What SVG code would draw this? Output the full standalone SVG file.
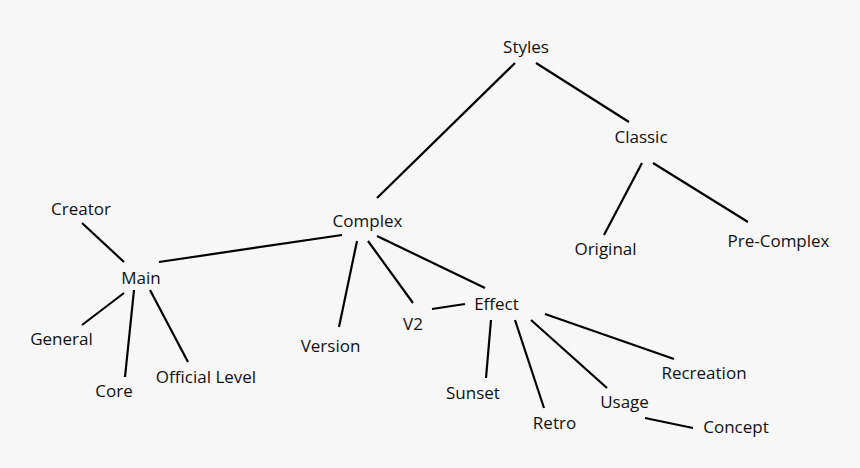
<svg xmlns="http://www.w3.org/2000/svg" width="860" height="468" viewBox="0 0 860 468">
<style>
.bg{fill:#f7f7f7}
text{font-family:"Open Sans","Noto Sans",sans-serif;font-size:17px;fill:#111;text-anchor:middle}
.edges line{stroke:#000;stroke-width:2.2;stroke-linecap:butt}
</style>
<rect class="bg" width="860" height="468"/>
<g class="edges" id="connectors">
<line x1="515" y1="63" x2="377" y2="198"/>
<line x1="536" y1="63" x2="629" y2="122"/>
<line x1="642" y1="163" x2="604" y2="235"/>
<line x1="653" y1="163" x2="748" y2="222"/>
<line x1="342" y1="235" x2="159" y2="262"/>
<line x1="82" y1="223" x2="124" y2="262"/>
<line x1="124" y1="293" x2="82" y2="325"/>
<line x1="134" y1="290" x2="125" y2="377"/>
<line x1="150" y1="290" x2="188" y2="362"/>
<line x1="357" y1="241" x2="339" y2="327"/>
<line x1="368" y1="241" x2="413" y2="303"/>
<line x1="377" y1="236" x2="485" y2="288"/>
<line x1="432" y1="309" x2="465" y2="304"/>
<line x1="491" y1="320" x2="486" y2="378"/>
<line x1="515" y1="320" x2="544" y2="408"/>
<line x1="531" y1="320" x2="607" y2="388"/>
<line x1="545" y1="314" x2="674" y2="359"/>
<line x1="645" y1="418" x2="693" y2="428"/>
</g>
<g id="styles"><text x="526" y="53">Styles</text></g>
<g id="classic"><text x="641" y="143">Classic</text></g>
<g id="original"><text x="605.5" y="255">Original</text></g>
<g id="pre-complex"><text x="778.5" y="247">Pre-Complex</text></g>
<g id="complex"><text x="367.5" y="227">Complex</text></g>
<g id="creator"><text x="81" y="215">Creator</text></g>
<g id="main"><text x="141" y="284">Main</text></g>
<g id="general"><text x="61.5" y="345">General</text></g>
<g id="core"><text x="114" y="397">Core</text></g>
<g id="official-level"><text x="206" y="383">Official Level</text></g>
<g id="version"><text x="330.5" y="352">Version</text></g>
<g id="v2"><text x="413" y="330">V2</text></g>
<g id="effect"><text x="496.5" y="310">Effect</text></g>
<g id="sunset"><text x="473" y="399">Sunset</text></g>
<g id="retro"><text x="554.5" y="429">Retro</text></g>
<g id="usage"><text x="624.5" y="408">Usage</text></g>
<g id="recreation"><text x="704" y="379">Recreation</text></g>
<g id="concept"><text x="736" y="433">Concept</text></g>
</svg>
